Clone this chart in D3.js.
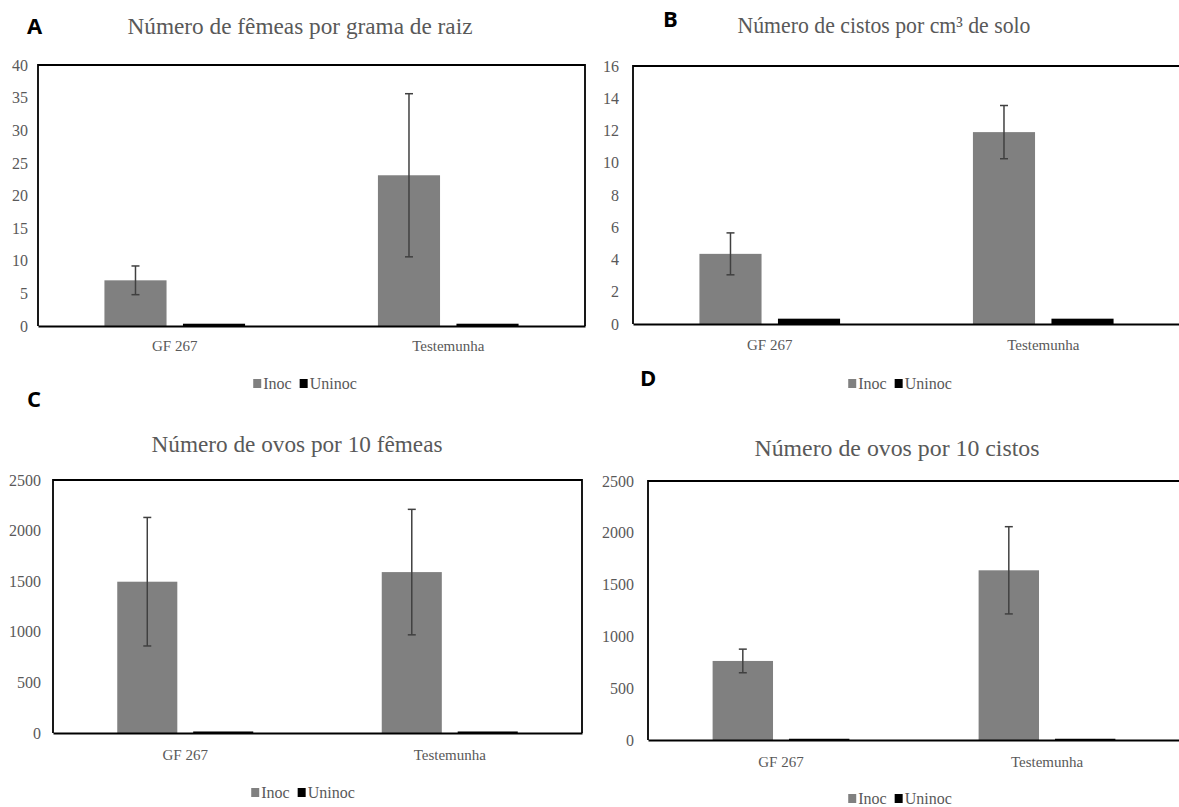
<!DOCTYPE html>
<html><head><meta charset="utf-8">
<script src="https://cdn.jsdelivr.net/npm/d3@7/dist/d3.min.js"></script>
<style>
body{margin:0;background:#fff;}
svg{display:block;}
.serif{font-family:'Liberation Serif','Times New Roman',serif;}
</style></head>
<body>
<svg id="chart" width="1179" height="807"></svg>
<script>
// ---- data ----
const categories = ["GF 267", "Testemunha"];
const seriesNames = ["Inoc", "Uninoc"];
const panelLetters = ["A", "B", "C", "D"];
const panelTitles = [
  "Número de fêmeas por grama de raiz",
  "Número de cistos por cm³ de solo",
  "Número de ovos por 10 fêmeas",
  "Número de ovos por 10 cistos"
];
const inocA = [7.0, 23.1],  errA = [2.2, 12.5],  uninocA = [0.35, 0.35];
const inocB = [4.35, 11.9], errB = [1.3, 1.65],  uninocB = [0.33, 0.33];
const inocC = [1495, 1590], errC = [635, 620],   uninocC = [15, 15];
const inocD = [763, 1638],  errD = [114, 421],   uninocD = [12, 12];
const ticksA = [0,5,10,15,20,25,30,35,40];
const ticksB = [0,2,4,6,8,10,12,14,16];
const ticksC = [0,500,1000,1500,2000,2500];
const ticksD = [0,500,1000,1500,2000,2500];

// ---- layout ----
const layouts = [
  {x0:38,  x1:585,  y0:65,  y1:326, titleX:300, titleY:34,  titleW:345, letterX:27,  letterY:34,  catY:351, legY:389, legX:305, lblGap:10},
  {x0:633, x1:1180, y0:66,  y1:324, titleX:884, titleY:33,  titleW:293, letterX:663, letterY:27,  catY:350, legY:389, legX:900, lblGap:14},
  {x0:53,  x1:582,  y0:480, y1:733, titleX:297, titleY:452, titleW:291, letterX:27,  letterY:407, catY:760, legY:798, legX:303, lblGap:12},
  {x0:648, x1:1180, y0:481, y1:740, titleX:897, titleY:456, titleW:285, letterX:640, letterY:386, catY:767, legY:804, legX:900, lblGap:14}
];
const panels = [
  {inoc:inocA, err:errA, uninoc:uninocA, ticks:ticksA},
  {inoc:inocB, err:errB, uninoc:uninocB, ticks:ticksB},
  {inoc:inocC, err:errC, uninoc:uninocC, ticks:ticksC},
  {inoc:inocD, err:errD, uninoc:uninocD, ticks:ticksD}
];
const colors = {Inoc:"#808080", Uninoc:"#000000"};
const textGray = "#595959";
const serif = "'Liberation Serif','Times New Roman',serif";

const svg = d3.select("#chart");

panels.forEach((p, i) => {
  const L = layouts[i];
  const g = svg.append("g");
  const ymax = p.ticks[p.ticks.length-1];
  const y = d3.scaleLinear().domain([0, ymax]).range([L.y1, L.y0]);
  const x = d3.scaleBand().domain(categories).range([L.x0, L.x1]).padding(0);
  const xs = d3.scaleBand().domain(seriesNames).range([0, x.bandwidth()])
      .paddingInner(0.209).paddingOuter(0.846);

  // letter
  svg.append("text").attr("x", L.letterX).attr("y", L.letterY)
    .style("font-family","'Open Sans','Noto Sans',sans-serif").style("font-weight","bold")
    .style("font-size", "22px").attr("fill","#000").text(panelLetters[i]);

  // title
  svg.append("text").attr("x", L.titleX).attr("y", L.titleY)
    .attr("text-anchor","middle").style("font-family", serif).style("font-size", "23px")
    .attr("fill", textGray).attr("textLength", L.titleW).attr("lengthAdjust","spacingAndGlyphs")
    .text(panelTitles[i]);

  // box (top/left/right)
  g.append("path")
    .attr("d", `M${L.x0},${L.y1}V${L.y0}H${L.x1}V${L.y1}`)
    .attr("fill","none").attr("stroke","#000").attr("stroke-width",1.8);

  // y axis
  const yAxis = d3.axisLeft(y).tickValues(p.ticks).tickSize(0).tickPadding(L.lblGap).tickFormat(d3.format("d"));
  const ya = g.append("g").attr("transform", `translate(${L.x0},0)`).call(yAxis);
  ya.select(".domain").remove();
  ya.selectAll("text").style("font-family", serif).style("font-size", "16px").attr("fill", textGray);

  // bars
  const rows = categories.map((c, k) => ({cat:c, Inoc:p.inoc[k], Uninoc:p.uninoc[k], err:p.err[k]}));
  const grp = g.selectAll(".grp").data(rows).join("g")
    .attr("transform", d => `translate(${x(d.cat)},0)`);
  grp.selectAll("rect").data(d => seriesNames.map(s => ({s, v:d[s]}))).join("rect")
    .attr("x", d => xs(d.s)).attr("width", xs.bandwidth())
    .attr("y", d => y(d.v)).attr("height", d => y(0) - y(d.v))
    .attr("fill", d => colors[d.s]);

  // error bars
  const cx = d => xs("Inoc") + xs.bandwidth()/2;
  const eb = grp.append("g").attr("stroke","#404040").attr("stroke-width",1.5);
  eb.append("line").attr("x1", cx).attr("x2", cx)
    .attr("y1", d => y(d.Inoc + d.err)).attr("y2", d => y(d.Inoc - d.err));
  eb.append("line").attr("x1", d => cx(d)-4).attr("x2", d => cx(d)+4)
    .attr("y1", d => y(d.Inoc + d.err)).attr("y2", d => y(d.Inoc + d.err));
  eb.append("line").attr("x1", d => cx(d)-4).attr("x2", d => cx(d)+4)
    .attr("y1", d => y(d.Inoc - d.err)).attr("y2", d => y(d.Inoc - d.err));

  // x axis
  const xAxis = d3.axisBottom(x).tickSize(0).tickPadding(0);
  const xa = g.append("g").attr("transform", `translate(0,${L.y1})`).call(xAxis);
  xa.select(".domain").attr("stroke","#000").attr("stroke-width",2.2);
  xa.selectAll("text").style("font-family", serif).style("font-size", "15px").attr("fill", textGray)
    .attr("y", L.catY - L.y1).attr("dy", 0);

  // legend
  const lg = svg.append("g").attr("fill", textGray);
  const items = lg.selectAll("g").data(seriesNames).join("g");
  items.append("rect").attr("width", 8).attr("height", 9).attr("y", L.legY - 10)
    .attr("fill", d => colors[d]);
  items.append("text").attr("x", 10).attr("y", L.legY)
    .style("font-family", serif).style("font-size", "16px").text(d => d);
  let widths = [];
  items.each(function(){ widths.push(this.getBBox().width); });
  const gap = 8;
  const total = d3.sum(widths) + gap*(widths.length-1);
  let cur = L.legX - total/2;
  items.attr("transform", (d, k) => { const t = `translate(${cur},0)`; cur += widths[k] + gap; return t; });
});
</script>
</body></html>
